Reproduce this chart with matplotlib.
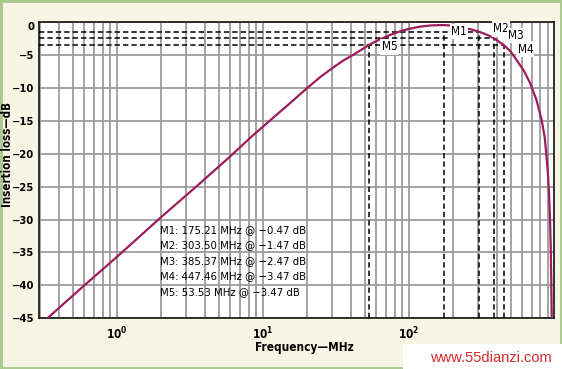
import matplotlib
matplotlib.use("Agg")
import matplotlib.pyplot as plt
from matplotlib.patches import Rectangle
from matplotlib.ticker import FixedLocator, LogLocator, NullFormatter

# ---------------- data ----------------
freq_mhz = [0.335, 0.6, 1.0, 2.0, 3.72, 6.0, 8.4, 12.0, 16.0, 20.0, 25.0, 30.0,
            36.0, 42.0, 48.0, 53.5, 62.0, 75.0, 88.0, 100.0, 120.0, 140.0, 160.0,
            175.0, 200.0, 230.0, 265.0, 303.5, 345.0, 385.0, 447.0, 500.0, 550.0,
            615.0, 680.0, 750.0, 815.0, 855.0, 880.0, 900.0, 915.0, 930.0, 940.0,
            948.0, 955.0]
loss_db = [-45.0, -40.0, -35.7, -29.7, -24.5, -20.4, -17.4, -14.4, -12.0, -10.1,
           -8.3, -7.0, -5.8, -4.95, -4.15, -3.47, -2.75, -1.95, -1.4, -1.05, -0.7,
           -0.53, -0.48, -0.47, -0.55, -0.8, -1.1, -1.47, -1.95, -2.47, -3.47,
           -4.5, -5.8, -7.4, -9.3, -11.8, -14.9, -17.5, -20.5, -23.0, -26.0,
           -30.0, -34.0, -39.0, -45.0]

marker_names = ["M1", "M2", "M3", "M4", "M5"]
marker_freq = [175.21, 303.50, 385.37, 447.46, 53.53]
marker_db = [-0.47, -1.47, -2.47, -3.47, -3.47]

y_ticks = [0, -5, -10, -15, -20, -25, -30, -35, -40, -45]
x_major = [1e0, 1e1, 1e2, 1e3]
x_labels = ["$10^{0}$", "$10^{1}$", "$10^{2}$", "$10^{3}$"]

# ---------------- style ----------------
FONT = ["DejaVu Sans"]
plt.rcParams["font.family"] = FONT
plt.rcParams["font.stretch"] = "condensed"
plt.rcParams["mathtext.default"] = "regular"

W, H = 562, 369
fig = plt.figure(figsize=(W / 100, H / 100), dpi=100, facecolor="#f7f5e3")

# green frame around the figure
fig.patches.append(Rectangle((0, 0), 1, 1, transform=fig.transFigure,
                             fill=False, edgecolor="#a9c98f", linewidth=3.5))

L, R, T, B = 39.3, 554.0, 22.0, 318.3
ax = fig.add_axes([L / W, 1 - B / H, (R - L) / W, (B - T) / H])
ax.set_facecolor("white")
ax.set_xscale("log")
ax.set_xlim(0.295, 990)
ax.set_ylim(-45, 0)

grid_kw = dict(color="#9c9c9c", linewidth=1.3)
ax.xaxis.set_major_locator(FixedLocator(x_major))
ax.xaxis.set_minor_locator(LogLocator(base=10, subs=range(2, 10), numticks=20))
ax.xaxis.set_minor_formatter(NullFormatter())
ax.set_xticklabels(x_labels)
ax.set_yticks(y_ticks)
ax.set_yticklabels([("\u2212" + str(abs(v))) if v < 0 else str(v) for v in y_ticks])
ax.grid(True, which="major", **grid_kw)
ax.grid(True, which="minor", axis="x", **grid_kw)
ax.set_axisbelow(True)
ax.tick_params(axis="both", which="both", length=0)
ax.tick_params(axis="y", pad=3.5, labelsize=8)
ax.tick_params(axis="x", pad=5, labelsize=8.5)
for lab in ax.get_xticklabels() + ax.get_yticklabels():
    lab.set_fontweight("bold")
ax.get_yticklabels()[0].set_va("top")
ax.get_xticklabels()[-1].set_ha("right")
for s in ax.spines.values():
    s.set_linewidth(1.3)
    s.set_color("#222222")

# curve
ax.plot(freq_mhz, loss_db, color="#9e1c5c", linewidth=1.6, zorder=4)

# marker dashed lines
dash_kw = dict(color="black", linewidth=1.1, linestyle=(0, (3.5, 2)), zorder=3)
xmin = ax.get_xlim()[0]
line_levels = sorted(set(marker_db[1:]))
for lvl in line_levels:
    fx = max(f for f, d in zip(marker_freq, marker_db) if d == lvl)
    ax.plot([xmin, fx], [lvl, lvl], **dash_kw)
for name, f, d in zip(marker_names, marker_freq, marker_db):
    top = d if name != "M1" else marker_db[1]
    ax.plot([f, f], [-45, top], **dash_kw)

# marker labels
lab_off = {"M1": (5, 0.2), "M2": (10, 2.0), "M3": (10, 2.0), "M4": (10, -3.0), "M5": (9, -1.5)}
for name, f, d in zip(marker_names, marker_freq, marker_db):
    lvl = d if name != "M1" else marker_db[1]
    dx, dy = lab_off[name]
    ax.annotate(name, (f, lvl), xytext=(dx, dy), textcoords="offset points",
                ha="left", va="center", fontsize=8.5, zorder=6,
                bbox=dict(boxstyle="square,pad=0.1", fc="white", ec="none"))

# marker listing
for i, (name, f, d) in enumerate(zip(marker_names, marker_freq, marker_db)):
    txt = f"{name}: {f:.2f} MHz @ \u2212{abs(d):.2f} dB"
    fig.text(160 / W, 1 - (230 + i * 15.4) / H, txt, ha="left", va="center",
             fontsize=8.1, zorder=6)

# axis labels
fig.text(304 / W, 1 - 347 / H, "Frequency\u2014MHz", ha="center", va="center",
         fontsize=8.5, fontweight="bold")
fig.text(7.5 / W, 1 - 154 / H, "Insertion loss\u2014dB", ha="center", va="center",
         rotation=90, fontsize=8.3, fontweight="bold")

# watermark
fig.patches.append(Rectangle((403 / W, 0), (W - 403) / W, 25 / H, transform=fig.transFigure,
                             facecolor="white", edgecolor="none", zorder=5))
fig.text(491 / W, 1 - 358 / H, "www.55dianzi.com", ha="center", va="center",
         fontsize=10.5, color="#d42a2a", family=["Liberation Sans", "DejaVu Sans"],
         fontstretch="normal", zorder=6)

fig.savefig("out.png", dpi=100, facecolor=fig.get_facecolor())
